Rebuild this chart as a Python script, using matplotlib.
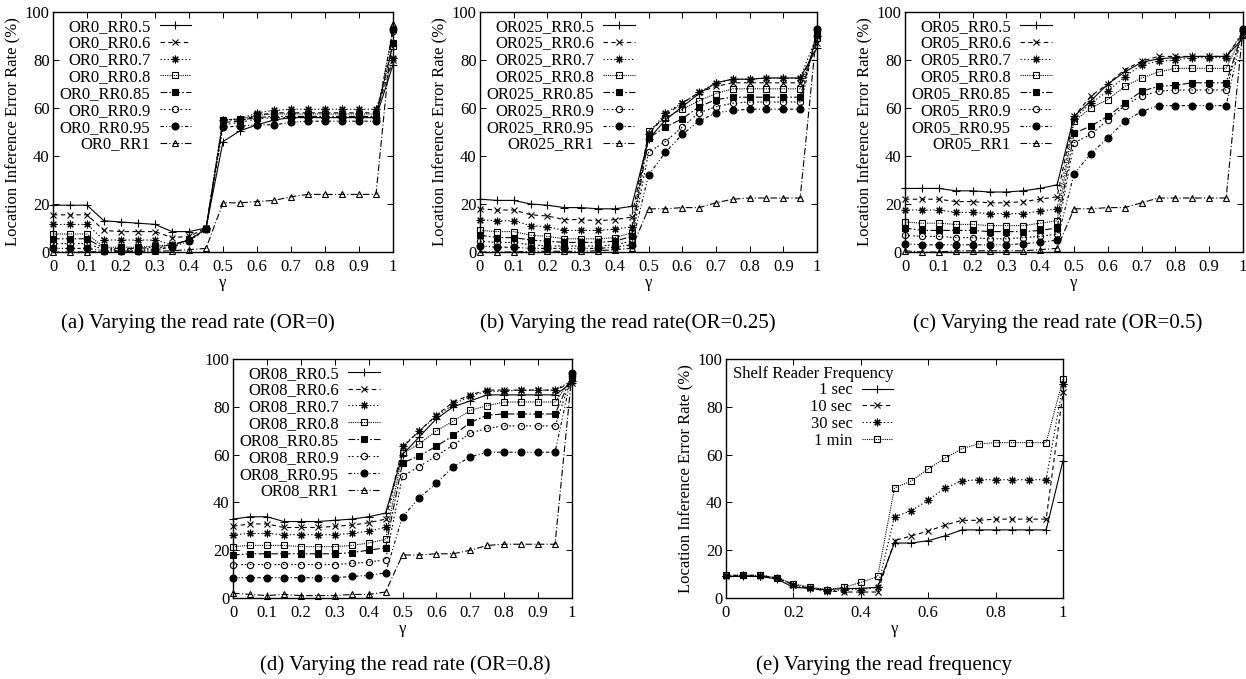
import matplotlib
matplotlib.use('Agg')
import matplotlib.pyplot as plt

plt.rcParams['font.family'] = ['Liberation Serif', 'DejaVu Serif']

gamma = [0, 0.05, 0.1, 0.15, 0.2, 0.25, 0.3, 0.35, 0.4, 0.45, 0.5,
         0.55, 0.6, 0.65, 0.7, 0.75, 0.8, 0.85, 0.9, 0.95, 1]
read_rates = ['0.5', '0.6', '0.7', '0.8', '0.85', '0.9', '0.95', '1']

# OR = 0
or0 = [
    [19.5, 19.5, 19.5, 13, 12.5, 12, 11.5, 8.5, 8.5, 10, 46, 50.5, 53, 55, 56, 56, 56, 56, 56, 56, 78],
    [15.5, 15.5, 15.5, 9, 8.5, 8.5, 8.5, 6, 6.5, 10, 54, 54.5, 57, 58, 58, 58, 58, 58, 58, 58, 80],
    [11.5, 11.5, 11.5, 5, 5, 5, 5, 3, 5, 10, 55, 55.5, 58, 59, 59.5, 59.5, 59.5, 59.5, 59.5, 59.5, 81],
    [7.5, 7.5, 7.5, 2, 2, 2, 2.5, 3, 5, 9.5, 55, 55.5, 57, 57.5, 57.5, 57.5, 57.5, 57.5, 57.5, 57.5, 86],
    [5.5, 5.5, 5.5, 1.5, 1.5, 1.5, 2, 3, 5, 9.5, 55, 55, 56, 56.5, 56.5, 56.5, 56.5, 56.5, 56.5, 56.5, 87],
    [3.5, 3.5, 3.5, 1, 1, 1, 1.5, 2.5, 5, 9.5, 53, 54, 55.5, 56, 56, 56, 56, 56, 56, 56, 92],
    [1.5, 1.5, 1.5, 0.5, 0.5, 0.5, 1, 2, 4.5, 9.5, 52, 52.5, 53, 53, 54, 54.5, 54.5, 54.5, 54.5, 54.5, 93],
    [0, 0, 0, 0.3, 0.3, 0.3, 0.3, 0.5, 1, 1.5, 20.5, 20.5, 21, 21.5, 23, 24, 24, 24, 24, 24, 95],
]
# OR = 0.25
or025 = [
    [22, 21.5, 21.5, 20, 19.5, 18.5, 18.5, 18, 18, 19, 47, 55, 60.5, 66, 70.5, 72, 72, 72.5, 72.5, 72.5, 85],
    [18, 17.5, 17.5, 15.5, 15, 13.5, 13.5, 13, 13.5, 14.5, 49, 57, 62, 66.5, 69, 70.5, 70.5, 70.5, 70.5, 70.5, 87],
    [13.5, 13, 13, 11, 10.5, 9, 9, 9, 9.5, 10.5, 49, 58, 62, 66.5, 70.5, 72, 72, 72.5, 72.5, 72.5, 90],
    [9, 8.5, 8.5, 7, 6.5, 5.5, 5.5, 5.5, 6, 8, 50.5, 56, 59.5, 63, 66, 68, 68, 68, 68, 68, 89],
    [7, 6, 6, 5, 4.5, 4, 4, 4, 4.5, 6.5, 47.5, 52, 55.5, 60.5, 63.5, 64.5, 64.5, 64.5, 64.5, 64.5, 91],
    [4.5, 4, 4, 3, 2.5, 2.5, 2.5, 2.5, 3, 4.5, 41.5, 46, 52, 58, 60.5, 62, 62.5, 62.5, 62.5, 62.5, 92],
    [2.5, 2, 2, 1.5, 1.5, 1.5, 1.5, 1.5, 2, 3, 32, 41.5, 49, 54.5, 58, 59, 59.5, 59.5, 59.5, 59.5, 93],
    [0, 0, 0, 0.3, 0.3, 0.3, 0.3, 0.5, 1, 1.5, 18, 18, 18.5, 18.5, 20.5, 22, 22.5, 22.5, 22.5, 22.5, 93],
]
# OR = 0.5
or05 = [
    [26.5, 26.5, 26.5, 25.5, 25.5, 25, 25, 25.5, 26.5, 28, 56.5, 63, 70, 75, 79, 80.5, 81, 81.5, 81.5, 81.5, 89],
    [22, 22, 22, 21, 21, 20.5, 20.5, 21, 22, 23, 56.5, 65, 70, 76, 79.5, 81.5, 81.5, 81.5, 81.5, 81.5, 91],
    [17.5, 17.5, 17.5, 16.5, 16.5, 16, 16, 16, 17, 18, 55.5, 62, 67, 73, 78, 79.5, 80, 81, 81, 81, 92],
    [12.5, 12, 12, 11.5, 11.5, 11, 11, 11, 12, 13, 54.5, 60, 63.5, 69, 72.5, 75, 76.5, 76.5, 76.5, 76.5, 91],
    [10, 9, 9, 9, 9, 8.5, 8.5, 8.5, 9, 10, 49.5, 52.5, 56.5, 62, 67, 69, 69.5, 70.5, 70.5, 70.5, 92],
    [7, 6.5, 6.5, 6, 6, 5.5, 5.5, 6, 6.5, 7.5, 45.5, 49, 55, 61, 65, 67, 67.5, 67.5, 67.5, 67.5, 93],
    [3.5, 3, 3, 3, 3, 3, 3, 3.5, 4, 5, 32.5, 41, 47.5, 54.5, 58.5, 61, 61, 61, 61, 61, 93],
    [0.5, 0, 0, 0.5, 0.5, 0.5, 0.5, 0.5, 1, 1.5, 18, 18, 18.5, 18.5, 20.5, 22.5, 22.5, 22.5, 22.5, 22.5, 93],
]
# OR = 0.8
or08 = [
    [33, 34, 34, 32, 32, 32, 32.5, 33, 34, 35.5, 60, 67.5, 75, 80, 82.5, 85, 85, 85, 85, 85, 90],
    [30, 31, 31, 29.5, 29.5, 29.5, 30, 30.5, 31.5, 33, 63, 70, 76.5, 82, 85, 87, 87, 87, 87, 87, 90],
    [26.5, 27, 27, 26.5, 26.5, 26.5, 26.5, 27, 28, 29.5, 63.5, 70, 76, 81, 84.5, 86.5, 86.5, 87, 87, 87, 91],
    [21.5, 22, 22, 22, 21.5, 21.5, 21.5, 22, 23, 24.5, 60.5, 64.5, 70, 74, 78.5, 80.5, 82, 82, 82, 82, 92],
    [18, 18.5, 18.5, 18.5, 18.5, 18.5, 18.5, 19, 20, 21, 56.5, 59.5, 63.5, 68, 73.5, 76.5, 77, 77, 77, 77, 93],
    [14, 14, 14, 14, 14, 14, 14, 14.5, 15, 16, 51, 55, 59.5, 64, 69, 71, 72, 72, 72, 72, 93],
    [8.5, 8.5, 8.5, 8.5, 8.5, 8.5, 8.5, 9, 9.5, 10.5, 34, 42, 48, 55, 59, 61, 61, 61, 61, 61, 94],
    [2, 1.5, 1, 1.5, 1, 1, 1, 1.5, 1.5, 2.5, 18, 18, 18.5, 18.5, 20, 22, 22.5, 22.5, 22.5, 22.5, 94],
]
# read frequency
freq_labels = ['1 sec', '10 sec', '30 sec', '1 min']
freq = [
    [9, 9, 9, 8, 4.5, 4, 3.5, 4, 4, 4.5, 23, 23, 24, 26, 28.5, 28.5, 28.5, 28.5, 28.5, 28.5, 57.5],
    [9.5, 9.5, 9.5, 8.5, 5.5, 4, 3, 2.5, 2.5, 2.5, 24, 26, 28, 30.5, 32.5, 32.5, 33, 33, 33, 33, 86],
    [9, 9.5, 9, 8.5, 5.5, 4, 3, 3.5, 3.5, 4.5, 34, 36.5, 41, 46, 49, 49.5, 49.5, 49.5, 49.5, 49.5, 89.5],
    [9.5, 9.5, 9.5, 8.5, 6, 4.5, 3.5, 4.5, 6.5, 9, 46, 49, 54, 58.5, 62.5, 64.5, 65, 65, 65, 65, 91.5],
]

styles = [
    ('-', '+', 'k', 6),
    ((0, (4, 3)), 'x', 'k', 4.5),
    ((0, (1.2, 2)), (8, 2, 0), 'k', 5.5),
    ((0, (1, 1)), 's', 'none', 4.5),
    ((0, (6, 2, 1.5, 2)), 's', 'k', 4.5),
    ((0, (1.5, 1.5, 1.5, 3)), 'o', 'none', 4.5),
    ((0, (3, 2, 1, 2, 1, 2)), 'o', 'k', 5),
    ((0, (6, 2, 1, 2)), '^', 'none', 4.5),
]

FS = 12
W, H = 1246, 679
fig = plt.figure(figsize=(W / 100, H / 100), dpi=100)


def make_axes(x0, x1, y0, y1):
    return fig.add_axes([x0 / W, 1 - y1 / H, (x1 - x0) / W, (y1 - y0) / H])


def setup(ax, xticks, ylabel=True):
    ax.set_xlim(0, 1)
    ax.set_ylim(0, 100)
    ax.set_xticks(xticks)
    ax.set_xticklabels(['%g' % t for t in xticks])
    ax.set_yticks([0, 20, 40, 60, 80, 100])
    ax.tick_params(direction='in', top=True, right=True, length=4, width=0.7,
                   labelsize=FS)
    ax.tick_params(axis='x', pad=5)
    ax.tick_params(axis='y', pad=2.5)
    for s in ax.spines.values():
        s.set_linewidth(1.0)
    ax.set_xlabel('γ', fontsize=FS, labelpad=0)
    if ylabel:
        ax.set_ylabel('Location Inference Error Rate (%)', fontsize=FS, labelpad=2)


def draw(ax, data, labels):
    for vals, lab, (ls, mk, mfc, ms) in zip(data, labels, styles):
        ax.plot(gamma, vals, linestyle=ls, marker=mk, color='k', mfc=mfc,
                mec='k', ms=ms, lw=0.8, mew=0.8, label=lab, clip_on=False)


leg_kw = dict(loc='upper left', bbox_to_anchor=(0, 1), frameon=False,
              markerfirst=False, fontsize=FS, handlelength=1.9,
              handletextpad=0.55, labelspacing=0.05, borderaxespad=0.2,
              borderpad=0.2, numpoints=1)

panels = [
    (or0, 'OR0', (53, 393, 12, 252), True),
    (or025, 'OR025', (480, 817, 12, 252), True),
    (or05, 'OR05', (905, 1243, 12, 252), True),
    (or08, 'OR08', (233, 572, 359, 598), False),
]
xt = [0, 0.1, 0.2, 0.3, 0.4, 0.5, 0.6, 0.7, 0.8, 0.9, 1]
for data, tag, box, yl in panels:
    ax = make_axes(*box)
    draw(ax, data, [f'{tag}_RR{r}' for r in read_rates])
    setup(ax, xt, yl)
    ax.legend(**leg_kw)

ax = make_axes(726, 1063, 359, 598)
draw(ax, freq, freq_labels)
setup(ax, [0, 0.2, 0.4, 0.6, 0.8, 1])
ax.legend(title='Shelf Reader Frequency', title_fontsize=FS,
          alignment='right', **leg_kw)

captions = [
    ('(a) Varying the read rate (OR=0)', 198, 323),
    ('(b) Varying the read rate(OR=0.25)', 628, 323),
    ('(c) Varying the read rate (OR=0.5)', 1058, 323),
    ('(d) Varying the read rate (OR=0.8)', 405, 665),
    ('(e) Varying the read frequency', 884, 665),
]
for txt, cx, cy in captions:
    fig.text(cx / W, 1 - cy / H, txt, ha='center', va='center', fontsize=15)

fig.savefig('out.png', dpi=100)
